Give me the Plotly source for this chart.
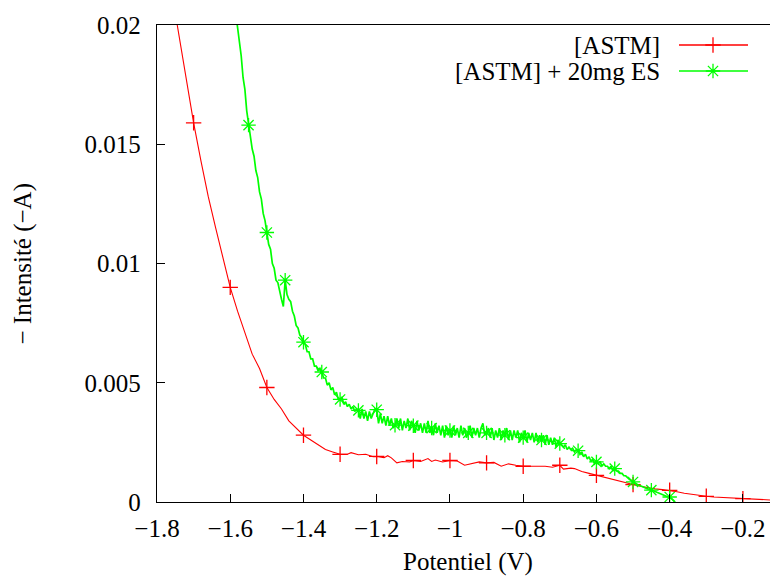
import plotly.graph_objects as go

# ---------------- data ----------------
red_v = [-1.76, -1.74, -1.72, -1.70, -1.68, -1.66, -1.64, -1.62, -1.60, -1.58,
         -1.56, -1.54, -1.52, -1.50, -1.48, -1.46, -1.44, -1.42, -1.40, -1.38,
         -1.36, -1.34, -1.32, -1.30, -1.28, -1.27, -1.25, -1.23, -1.21, -1.20,
         -1.18, -1.17, -1.16, -1.145, -1.13, -1.11, -1.10, -1.08, -1.06, -1.05,
         -1.04, -1.02, -1.00, -0.98, -0.96, -0.94, -0.92, -0.90, -0.88, -0.86,
         -0.84, -0.82, -0.80, -0.78, -0.76, -0.74, -0.72, -0.70, -0.69, -0.67,
         -0.66, -0.64, -0.62, -0.60, -0.58, -0.56, -0.54, -0.52, -0.50, -0.48,
         -0.46, -0.44, -0.42, -0.40, -0.38, -0.36, -0.34, -0.32, -0.30, -0.28,
         -0.26, -0.24, -0.22, -0.20, -0.18, -0.16, -0.14, -0.12, -0.10]
red_i = [0.0214, 0.0196, 0.0177, 0.0159, 0.0143, 0.0128, 0.0115, 0.0102, 0.0090, 0.0080,
         0.0071, 0.0062, 0.0056, 0.0048, 0.0043, 0.0039, 0.0034, 0.0031, 0.0028, 0.0026,
         0.0024, 0.0022, 0.0021, 0.0020, 0.0020, 0.00207, 0.00198, 0.00200, 0.00190, 0.00191,
         0.00186, 0.00194, 0.00185, 0.00164, 0.00170, 0.00168, 0.00174, 0.00170, 0.00182, 0.00170,
         0.00176, 0.00168, 0.00174, 0.00172, 0.00154, 0.00162, 0.00168, 0.00164, 0.00166, 0.00150,
         0.00160, 0.00154, 0.00150, 0.00150, 0.00151, 0.00150, 0.00146, 0.00154, 0.00138, 0.00142,
         0.00140, 0.00128, 0.00120, 0.00112, 0.00102, 0.00094, 0.00087, 0.00080, 0.00073, 0.00066,
         0.00060, 0.00055, 0.00052, 0.00049, 0.00043, 0.00037, 0.00032, 0.00028, 0.00024, 0.00021,
         0.00019, 0.00017, 0.00015, 0.00014, 0.00012, 0.00010, 0.00009, 0.00008, 0.00007]
red_marker_v = [-1.7, -1.6, -1.5, -1.4, -1.3, -1.2, -1.1, -1.0, -0.9, -0.8,
                -0.7, -0.6, -0.5, -0.4, -0.3, -0.2]

green_v = [-1.585, -1.580, -1.575, -1.570, -1.565, -1.560, -1.555, -1.550, -1.545, -1.540,
           -1.535, -1.530, -1.525, -1.520, -1.515, -1.510, -1.505, -1.500, -1.495, -1.490,
           -1.485, -1.480, -1.475, -1.470, -1.465, -1.460, -1.455, -1.450, -1.445, -1.440,
           -1.435, -1.430, -1.425, -1.420, -1.415, -1.410, -1.405, -1.400, -1.395, -1.390,
           -1.385, -1.380, -1.375, -1.370, -1.365, -1.360, -1.355, -1.350, -1.345, -1.340,
           -1.335, -1.330, -1.325, -1.320, -1.315, -1.310, -1.305, -1.300, -1.295, -1.290,
           -1.285, -1.280, -1.275, -1.270, -1.265, -1.260, -1.255, -1.250, -1.245, -1.240,
           -1.235, -1.230, -1.225, -1.220, -1.215, -1.210, -1.205, -1.200, -1.195, -1.190,
           -1.185, -1.180, -1.175, -1.170, -1.165, -1.160, -1.155, -1.150, -1.145, -1.140,
           -1.135, -1.130, -1.125, -1.120, -1.115, -1.110, -1.105, -1.100, -1.095, -1.090,
           -1.085, -1.080, -1.075, -1.070, -1.065, -1.060, -1.055, -1.050, -1.045, -1.040,
           -1.035, -1.030, -1.025, -1.020, -1.015, -1.010, -1.005, -1.000, -0.995, -0.990,
           -0.985, -0.980, -0.975, -0.970, -0.965, -0.960, -0.955, -0.950, -0.945, -0.940,
           -0.935, -0.930, -0.925, -0.920, -0.915, -0.910, -0.905, -0.900, -0.895, -0.890,
           -0.885, -0.880, -0.875, -0.870, -0.865, -0.860, -0.855, -0.850, -0.845, -0.840,
           -0.835, -0.830, -0.825, -0.820, -0.815, -0.810, -0.805, -0.800, -0.795, -0.790,
           -0.785, -0.780, -0.775, -0.770, -0.765, -0.760, -0.755, -0.750, -0.745, -0.740,
           -0.735, -0.730, -0.725, -0.720, -0.715, -0.710, -0.705, -0.700, -0.695, -0.690,
           -0.685, -0.680, -0.675, -0.670, -0.665, -0.660, -0.655, -0.650, -0.645, -0.640,
           -0.635, -0.630, -0.625, -0.620, -0.615, -0.610, -0.605, -0.600, -0.595, -0.590,
           -0.585, -0.580, -0.575, -0.570, -0.565, -0.560, -0.555, -0.550, -0.545, -0.540,
           -0.535, -0.530, -0.525, -0.520, -0.515, -0.510, -0.505, -0.500, -0.495, -0.490,
           -0.485, -0.480, -0.475, -0.470, -0.465, -0.460, -0.455, -0.450, -0.445, -0.440,
           -0.435, -0.430, -0.425, -0.420, -0.415, -0.410, -0.405, -0.400, -0.395, -0.390,
           -0.385]
green_i = [0.0205, 0.0199, 0.0191, 0.0187, 0.0178, 0.0173, 0.0164, 0.0158, 0.0154, 0.0148,
           0.0145, 0.0139, 0.0136, 0.0130, 0.0127, 0.0121, 0.0118, 0.0113, 0.0108, 0.0106,
           0.0100, 0.0098, 0.0093, 0.0092, 0.0088, 0.0085, 0.0082, 0.0093, 0.0087, 0.0085,
           0.0084, 0.0080, 0.0078, 0.0074, 0.0073, 0.0070, 0.0069, 0.0067, 0.0066, 0.0063,
           0.0063, 0.0060, 0.0060, 0.0057, 0.0057, 0.0055, 0.0056, 0.00545, 0.0052, 0.0052,
           0.0049, 0.0050, 0.0047, 0.0048, 0.0045, 0.0046, 0.0043, 0.0043, 0.0044, 0.0041,
           0.0042, 0.0040, 0.0041, 0.0039, 0.0040, 0.0038, 0.0039, 0.00384, 0.0035, 0.0039,
           0.0035, 0.0038, 0.0034, 0.0038, 0.0035, 0.0037, 0.0039, 0.00387, 0.0033, 0.0037,
           0.0033, 0.0036, 0.0032, 0.0036, 0.0032, 0.0035, 0.0031, 0.00322, 0.0035, 0.0031,
           0.0035, 0.0030, 0.0034, 0.0031, 0.0035, 0.0030, 0.0034, 0.0032, 0.0029, 0.0034,
           0.0030, 0.0033, 0.0029, 0.0033, 0.0029, 0.0034, 0.0029, 0.0031, 0.0028, 0.0033,
           0.0029, 0.0032, 0.0028, 0.0032, 0.0027, 0.0032, 0.0028, 0.0030, 0.0027, 0.0032,
           0.0028, 0.0031, 0.0027, 0.0032, 0.0028, 0.0031, 0.0027, 0.0029, 0.0032, 0.0027,
           0.0031, 0.0028, 0.0031, 0.0027, 0.0031, 0.0033, 0.0028, 0.0029, 0.0031, 0.0027,
           0.0031, 0.0026, 0.0030, 0.0027, 0.0031, 0.0026, 0.0030, 0.0028, 0.0031, 0.0026,
           0.0030, 0.0026, 0.0030, 0.0027, 0.0030, 0.0025, 0.0029, 0.0027, 0.0030, 0.0025,
           0.0029, 0.0026, 0.0029, 0.0025, 0.0029, 0.0025, 0.0028, 0.0026, 0.0028, 0.0024,
           0.0028, 0.0024, 0.0027, 0.0024, 0.0027, 0.0023, 0.0026, 0.00245, 0.0024, 0.0023,
           0.0024, 0.0022, 0.0023, 0.0022, 0.00225, 0.0021, 0.0022, 0.00215, 0.0020, 0.0021,
           0.0019, 0.0020, 0.0018, 0.0019, 0.0017, 0.0018, 0.0016, 0.00168, 0.0016, 0.0017,
           0.0015, 0.0016, 0.0015, 0.0015, 0.0014, 0.0015, 0.0013, 0.0014, 0.0013, 0.0013,
           0.0012, 0.0012, 0.0011, 0.0011, 0.0010, 0.00095, 0.0009, 0.00084, 0.0008, 0.00076,
           0.0007, 0.00068, 0.00064, 0.0006, 0.00058, 0.00055, 0.00054, 0.0005, 0.00047, 0.00044,
           0.00041, 0.00038, 0.00035, 0.00032, 0.0003, 0.00027, 0.00024, 0.00021, 0.00015, 0.00008,
           0.0]
green_marker_v = [-1.55, -1.50, -1.45, -1.40, -1.35, -1.30, -1.25, -1.20, -1.15, -1.10,
                  -1.05, -1.00, -0.95, -0.90, -0.85, -0.80, -0.75, -0.70, -0.65, -0.60,
                  -0.55, -0.50, -0.45, -0.40]

series_names = ["[ASTM]", "[ASTM] + 20mg ES"]
x_ticks = [-1.8, -1.6, -1.4, -1.2, -1.0, -0.8, -0.6, -0.4, -0.2]
y_ticks = [0, 0.005, 0.01, 0.015, 0.02]

RED = "#ff0000"
GREEN = "#00ff00"
FONT = "Liberation Serif"
FS = 25

def pick(vs, ys, targets):
    mx, my = [], []
    for t in targets:
        k = min(range(len(vs)), key=lambda j: abs(vs[j] - t))
        mx.append(vs[k]); my.append(ys[k])
    return mx, my

fig = go.Figure()
fig.add_trace(go.Scatter(x=red_v, y=red_i, mode="lines",
                         line=dict(color=RED, width=1.1), showlegend=False))
rmx, rmy = pick(red_v, red_i, red_marker_v)
fig.add_trace(go.Scatter(x=rmx, y=rmy, mode="markers",
                         marker=dict(symbol="cross-thin-open", size=11, color=RED,
                                     line=dict(color=RED, width=1.3)), showlegend=False))
fig.add_trace(go.Scatter(x=green_v, y=green_i, mode="lines",
                         line=dict(color=GREEN, width=1.7), showlegend=False))
gmx, gmy = pick(green_v, green_i, green_marker_v)
fig.add_trace(go.Scatter(x=gmx, y=gmy, mode="markers",
                         marker=dict(symbol="asterisk-open", size=12, color=GREEN,
                                     line=dict(color=GREEN, width=1.3)), showlegend=False))

# legend keys drawn in a pixel-space overlay axis
L_TEXT_RIGHT = 662
L_X0, L_X1, L_XM = 679, 748, 713
L_Y = [45, 71]
for name, col, sym, yy in [(series_names[0], RED, "cross-thin-open", L_Y[0]),
                           (series_names[1], GREEN, "asterisk-open", L_Y[1])]:
    fig.add_trace(go.Scatter(x=[L_X0, L_X1], y=[yy, yy], mode="lines",
                             line=dict(color=col, width=1.3), xaxis="x2", yaxis="y2",
                             showlegend=False, hoverinfo="skip"))
    fig.add_trace(go.Scatter(x=[L_XM], y=[yy], mode="markers",
                             marker=dict(symbol=sym, size=11 if sym.startswith("cross") else 12,
                                         color=col, line=dict(color=col, width=1.3)),
                             xaxis="x2", yaxis="y2", showlegend=False, hoverinfo="skip"))
    fig.add_annotation(x=L_TEXT_RIGHT, y=yy, xref="x2", yref="y2", text=name,
                       showarrow=False, xanchor="right", yanchor="middle",
                       font=dict(family=FONT, size=FS, color="black"))

axis_common = dict(showgrid=False, zeroline=False, showline=True, linecolor="black",
                   linewidth=1.3, ticks="inside", ticklen=8, tickwidth=1, tickcolor="black",
                   tickfont=dict(family=FONT, size=FS, color="black"))

fig.update_layout(
    width=770, height=578,
    margin=dict(l=157, r=0, t=25, b=76),
    paper_bgcolor="white", plot_bgcolor="white",
    font=dict(family=FONT, size=FS, color="black"),
    showlegend=False,
    xaxis=dict(range=[-1.8, -0.126], tickvals=x_ticks, mirror=True,
               ticklabelstandoff=4, **axis_common),
    yaxis=dict(range=[0, 0.02], tickvals=y_ticks, ticklabelstandoff=10, **axis_common),
    xaxis2=dict(range=[157, 770], overlaying="x", visible=False, fixedrange=True),
    yaxis2=dict(range=[502, 25], overlaying="y", visible=False, fixedrange=True),
)

fig.add_annotation(x=-0.95, xref="x", y=-0.1583, yref="paper", text="Potentiel (V)",
                   showarrow=False, xanchor="center", yanchor="bottom",
                   font=dict(family=FONT, size=FS, color="black"))
fig.add_annotation(x=-0.2186, xref="paper", y=0.5, yref="paper", text="− Intensité (−A)",
                   textangle=-90, showarrow=False, xanchor="center", yanchor="middle",
                   font=dict(family=FONT, size=FS, color="black"))

fig.write_html("out.html", config={"displayModeBar": False},
               post_script="document.body.style.margin='0';document.body.style.padding='0';")
